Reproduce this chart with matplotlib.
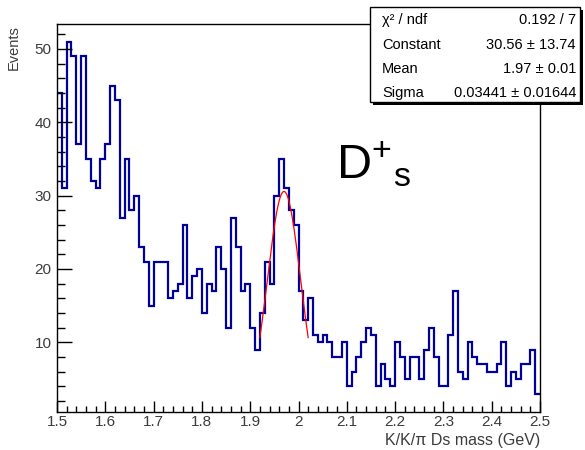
import numpy as np
import matplotlib
matplotlib.use('Agg')
import matplotlib.pyplot as plt
from matplotlib.ticker import MultipleLocator, FormatStrFormatter
from matplotlib.patches import Rectangle

plt.rcParams['font.family'] = ['Liberation Sans', 'DejaVu Sans']
plt.rcParams['mathtext.default'] = 'regular'

# histogram: 100 bins between 1.5 and 2.5 GeV
x_min, x_max, n_bins = 1.5, 2.5, 100
counts = [44, 31, 51, 49, 37, 49, 35, 32, 31, 35,
          37, 45, 43, 27, 35, 28, 30, 23, 21, 15,
          21, 21, 21, 16, 17, 18, 26, 16, 19, 20,
          14, 18, 17, 23, 20, 12, 27, 23, 17, 18,
          12, 9, 14, 21, 18, 30, 35, 31, 28, 26,
          17, 13, 16, 11, 10, 11, 10, 8, 8, 10,
          4, 6, 8, 10, 12, 11, 4, 7, 5, 4,
          10, 8, 5, 8, 8, 5, 9, 12, 8, 4,
          4, 11, 17, 6, 5, 10, 8, 7, 7, 6,
          6, 7, 10, 4, 6, 5, 7, 7, 9, 3]

# gaussian fit (values from the stats box)
fit_const, fit_mean, fit_sigma = 30.56, 1.97, 0.03441
fit_range = (1.92, 2.02)

stat_names = ['χ² / ndf', 'Constant', 'Mean', 'Sigma']
stat_values = ['0.192 / 7', '30.56 ± 13.74', '1.97 ± 0.01', '0.03441 ± 0.01644']

W, H = 585, 450
fig = plt.figure(figsize=(W / 100, H / 100), dpi=100)

def fx(px):
    return px / W

def fy(py):
    return 1 - py / H

ax = fig.add_axes([fx(57), fy(412), (540 - 57) / W, (412 - 24) / H])

edges = np.linspace(x_min, x_max, n_bins + 1)
ax.stairs(counts, edges, baseline=None, color='#00009c', lw=1.6)

xf = np.linspace(fit_range[0], fit_range[1], 200)
yf = fit_const * np.exp(-0.5 * ((xf - fit_mean) / fit_sigma) ** 2)
ax.plot(xf, yf, color='red', lw=0.9)

ax.set_xlim(x_min, x_max)
ax.set_ylim(0.48, 53.4)

ax.xaxis.set_major_locator(MultipleLocator(0.1))
ax.xaxis.set_minor_locator(MultipleLocator(0.02))
ax.xaxis.set_major_formatter(FormatStrFormatter('%g'))
ax.yaxis.set_major_locator(MultipleLocator(10))
ax.yaxis.set_minor_locator(MultipleLocator(2))

ax.tick_params(axis='x', which='major', direction='in', length=8, width=1, pad=2.5,
               labelsize=11, labelcolor='#3c3c3c')
ax.tick_params(axis='x', which='minor', direction='in', length=4, width=1)
ax.tick_params(axis='y', which='major', direction='in', length=11, width=1, pad=4,
               labelsize=11, labelcolor='#3c3c3c')
ax.tick_params(axis='y', which='minor', direction='in', length=5.5, width=1)
for s in ax.spines.values():
    s.set_linewidth(1)

fig.text(fx(14), fy(25), 'Events', rotation=90, ha='center', va='top',
         fontsize=10.5, color='#3c3c3c')
fig.text(fx(540), fy(441), 'K/K/π Ds mass (GeV)', ha='right', va='center',
         fontsize=11.5, color='#3c3c3c')

fig.text(fx(336), fy(179), r'$\mathregular{D^{+}{}_{s}}$', fontsize=35,
         ha='left', va='baseline')

# stats box with shadow
bx0, by0, bx1, by1 = 370, 7, 580, 102
fig.patches.append(Rectangle((fx(bx0 + 3), fy(by1 + 3)), (bx1 - bx0) / W, (by1 - by0) / H,
                             transform=fig.transFigure, facecolor='black', edgecolor='none'))
fig.patches.append(Rectangle((fx(bx0), fy(by1)), (bx1 - bx0) / W, (by1 - by0) / H,
                             transform=fig.transFigure, facecolor='white',
                             edgecolor='black', lw=1))
row_y = [20, 45, 69, 93]
for name, val, ry in zip(stat_names, stat_values, row_y):
    fig.text(fx(382), fy(ry), name, ha='left', va='center', fontsize=10.5)
    fig.text(fx(576), fy(ry), val, ha='right', va='center', fontsize=10.5)

fig.savefig('out.png', dpi=100)
